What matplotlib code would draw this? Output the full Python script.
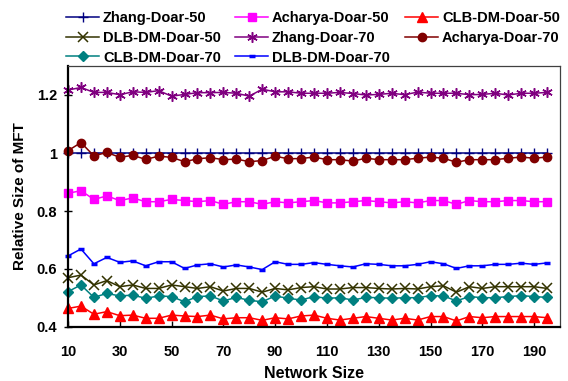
import matplotlib
matplotlib.use("Agg")
import matplotlib.pyplot as plt

plt.rcParams['font.family'] = ['Liberation Sans', 'DejaVu Sans']
plt.rcParams['font.weight'] = 'bold'

network_size = list(range(10, 200, 5))

zhang_doar_50 = [1.0] * 38
zhang_doar_70 = [1.217, 1.226, 1.209, 1.209, 1.201, 1.211, 1.209, 1.215, 1.196, 1.202,
                 1.208, 1.208, 1.209, 1.206, 1.196, 1.220, 1.211, 1.211, 1.206, 1.206,
                 1.206, 1.209, 1.205, 1.200, 1.202, 1.206, 1.201, 1.210, 1.206, 1.206,
                 1.206, 1.201, 1.202, 1.206, 1.200, 1.206, 1.206, 1.209]
acharya_doar_70 = [1.008, 1.036, 0.990, 1.002, 0.985, 0.992, 0.978, 0.989, 0.985, 0.970,
                   0.980, 0.984, 0.977, 0.979, 0.970, 0.974, 0.989, 0.980, 0.981, 0.986,
                   0.977, 0.977, 0.972, 0.982, 0.977, 0.977, 0.977, 0.982, 0.986, 0.982,
                   0.968, 0.977, 0.977, 0.977, 0.982, 0.986, 0.982, 0.986]
acharya_doar_50 = [0.861, 0.870, 0.840, 0.852, 0.836, 0.845, 0.832, 0.832, 0.840, 0.836,
                   0.832, 0.836, 0.823, 0.832, 0.832, 0.823, 0.832, 0.828, 0.832, 0.836,
                   0.828, 0.828, 0.832, 0.836, 0.832, 0.828, 0.832, 0.828, 0.836, 0.836,
                   0.823, 0.836, 0.832, 0.832, 0.836, 0.836, 0.832, 0.832]
dlb_dm_doar_70 = [0.645, 0.669, 0.618, 0.640, 0.623, 0.628, 0.611, 0.625, 0.625, 0.602,
                  0.614, 0.618, 0.607, 0.614, 0.607, 0.598, 0.625, 0.616, 0.616, 0.622,
                  0.616, 0.611, 0.607, 0.618, 0.616, 0.611, 0.611, 0.616, 0.625, 0.618,
                  0.602, 0.611, 0.611, 0.616, 0.616, 0.620, 0.616, 0.621]
dlb_dm_doar_50 = [0.570, 0.579, 0.545, 0.560, 0.539, 0.545, 0.533, 0.533, 0.545, 0.539,
                  0.533, 0.539, 0.524, 0.533, 0.533, 0.520, 0.533, 0.528, 0.536, 0.539,
                  0.531, 0.531, 0.536, 0.536, 0.533, 0.531, 0.533, 0.531, 0.539, 0.542,
                  0.520, 0.539, 0.533, 0.539, 0.539, 0.539, 0.539, 0.533]
clb_dm_doar_70 = [0.522, 0.545, 0.502, 0.516, 0.507, 0.510, 0.499, 0.507, 0.505, 0.487,
                  0.505, 0.507, 0.490, 0.502, 0.492, 0.487, 0.507, 0.499, 0.493, 0.505,
                  0.499, 0.501, 0.493, 0.502, 0.501, 0.499, 0.501, 0.501, 0.508, 0.507,
                  0.490, 0.505, 0.501, 0.501, 0.505, 0.508, 0.505, 0.502]
clb_dm_doar_50 = [0.464, 0.472, 0.444, 0.453, 0.439, 0.441, 0.430, 0.430, 0.441, 0.438,
                  0.436, 0.441, 0.428, 0.432, 0.432, 0.423, 0.432, 0.428, 0.438, 0.441,
                  0.430, 0.424, 0.430, 0.436, 0.430, 0.424, 0.430, 0.424, 0.436, 0.436,
                  0.421, 0.436, 0.432, 0.436, 0.436, 0.436, 0.436, 0.432]

x_ticks = [10, 30, 50, 70, 90, 110, 130, 150, 170, 190]
y_ticks = [0.4, 0.6, 0.8, 1.0, 1.2]
y_tick_labels = ["0.4", "0.6", "0.8", "1", "1.2"]

fig = plt.figure(figsize=(5.68, 3.81), dpi=100)
ax = fig.add_axes([68 / 568, 1 - 327 / 381, (560 - 68) / 568, (327 - 66) / 381])

lw = 1.1
h = {}
h['Zhang-Doar-50'], = ax.plot(network_size, zhang_doar_50, color='#000080', lw=lw, marker='+', ms=7, mew=1.0, clip_on=False)
h['Acharya-Doar-50'], = ax.plot(network_size, acharya_doar_50, color='#FF00FF', lw=lw, marker='s', ms=5.5, clip_on=False)
h['CLB-DM-Doar-50'], = ax.plot(network_size, clb_dm_doar_50, color='#FF0000', lw=lw, marker='^', ms=6.5, clip_on=False)
h['DLB-DM-Doar-50'], = ax.plot(network_size, dlb_dm_doar_50, color='#333300', lw=lw, marker='x', ms=6.5, mew=1.1, clip_on=False)
h['Zhang-Doar-70'], = ax.plot(network_size, zhang_doar_70, color='#800080', lw=lw, marker=(6, 2, 0), ms=7.5, mew=1.1, clip_on=False)
h['Acharya-Doar-70'], = ax.plot(network_size, acharya_doar_70, color='#800000', lw=lw, marker='o', ms=6, clip_on=False)
h['CLB-DM-Doar-70'], = ax.plot(network_size, clb_dm_doar_70, color='#008080', lw=lw, marker='D', ms=5, clip_on=False)
h['DLB-DM-Doar-70'], = ax.plot(network_size, dlb_dm_doar_70, color='#0000FF', lw=lw, marker='_', ms=4, mew=2.5, clip_on=False)

ax.set_xlim(10, 200)
ax.set_ylim(0.4, 1.3)
ax.set_xticks(x_ticks)
ax.set_yticks(y_ticks)
ax.set_yticklabels(y_tick_labels)
ax.tick_params(axis='x', direction='in', length=4, width=1, labelsize=10.5, pad=13)
ax.tick_params(axis='y', direction='inout', length=6, width=1, labelsize=10.5, pad=5)
for lab in ax.get_xticklabels() + ax.get_yticklabels():
    lab.set_fontweight('bold')

for s in ['left', 'bottom']:
    ax.spines[s].set_linewidth(1.6)
    ax.spines[s].set_color('black')
for s in ['top', 'right']:
    ax.spines[s].set_linewidth(0.9)
    ax.spines[s].set_color('#404040')

ax.set_xlabel('Network Size', fontsize=11.5, fontweight='bold', labelpad=5)
ax.set_ylabel('Relative Size of MFT', fontsize=11, fontweight='bold', labelpad=7)

cols = [
    ['Zhang-Doar-50', 'DLB-DM-Doar-50', 'CLB-DM-Doar-70'],
    ['Acharya-Doar-50', 'Zhang-Doar-70', 'DLB-DM-Doar-70'],
    ['CLB-DM-Doar-50', 'Acharya-Doar-70'],
]
col_x = [63, 232, 402]
for names, cx in zip(cols, col_x):
    leg = fig.legend([h[n] for n in names], names, loc='upper left',
                     bbox_to_anchor=(cx / 568, 1 - 8 / 381), frameon=False,
                     prop={'size': 10.5, 'weight': 'bold'}, handlelength=2.3,
                     handletextpad=0.25, labelspacing=0.4, borderpad=0.2,
                     borderaxespad=0)

fig.savefig('out.png', dpi=100)
